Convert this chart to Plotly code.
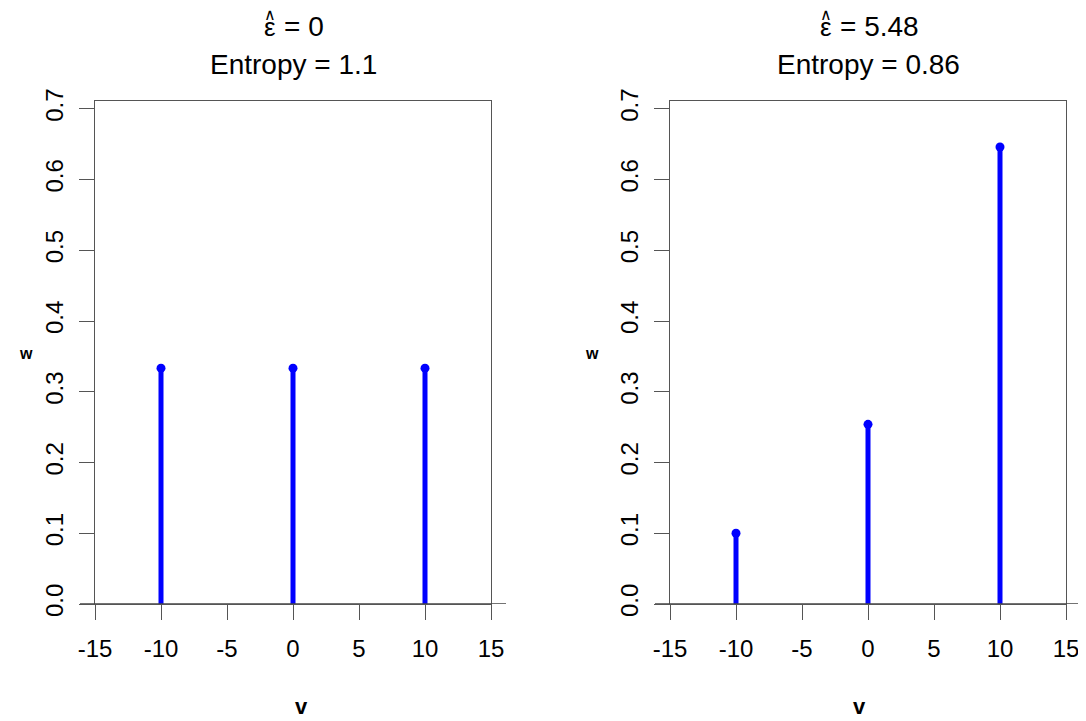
import plotly.graph_objects as go

v = [-10, 0, 10]
w_left = [1/3, 1/3, 1/3]
w_right = [0.100, 0.254, 0.646]
titles_eps = ["0", "5.48"]
titles_ent = ["1.1", "0.86"]
xticks = [-15, -10, -5, 0, 5, 10, 15]
yticks = [0.0, 0.1, 0.2, 0.3, 0.4, 0.5, 0.6, 0.7]

# page is 1086x721; the browser's default body margin offsets the figure by 8px
OFF = 8
W, H = 1086 - OFF, 721 - OFF
FONT = "Liberation Sans, Arial, sans-serif"
AX = "#555555"


def fx(px):
    return (px - OFF) / W


def fy(py):
    return 1 - (py - OFF) / H


fig = go.Figure()

panels = [(w_left, "x", "y", 95, 491, 270), (w_right, "x2", "y2", 670, 1066, 826)]
for i, (w, xa, ya, px0, px1, epsx) in enumerate(panels):
    sx, sy = [], []
    for vi, wi in zip(v, w):
        sx += [vi, vi, None]
        sy += [0, wi, None]
    fig.add_trace(go.Scatter(x=sx, y=sy, mode="lines", line=dict(color="#0000ff", width=5),
                             xaxis=xa, yaxis=ya, showlegend=False, hoverinfo="skip"))
    fig.add_trace(go.Scatter(x=v, y=w, mode="markers", marker=dict(color="#0000ff", size=9),
                             xaxis=xa, yaxis=ya, showlegend=False))
    fig.add_shape(type="line", xref="paper", yref=ya, x0=fx(px0 - 15), x1=fx(px1 + 15),
                  y0=0, y1=0, line=dict(color="#444444", width=1.3))
    cx = fx((px0 + px1) / 2)
    # epsilon with hat
    fig.add_annotation(text="ε", xref="paper", yref="paper", x=fx(epsx), y=fy(27),
                       showarrow=False, font=dict(family=FONT, size=26, color="black"),
                       xanchor="center", yanchor="middle")
    fig.add_annotation(text="∧", xref="paper", yref="paper", x=fx(epsx), y=fy(15),
                       showarrow=False, font=dict(family="DejaVu Sans", size=16, color="black"),
                       xanchor="center", yanchor="middle")
    fig.add_annotation(text="= " + titles_eps[i], xref="paper", yref="paper", x=fx(epsx + 12), y=fy(26),
                       showarrow=False, font=dict(family=FONT, size=28, color="black"),
                       xanchor="left", yanchor="middle")
    fig.add_annotation(text="Entropy = " + titles_ent[i], xref="paper", yref="paper", x=cx, y=fy(64),
                       showarrow=False, font=dict(family=FONT, size=28, color="black"),
                       xanchor="center", yanchor="middle")
    fig.add_annotation(text="<b>v</b>", xref="paper", yref="paper", x=cx, y=fy(706),
                       showarrow=False, font=dict(family=FONT, size=22, color="black"), yanchor="middle")
    fig.add_annotation(text="<b>w</b>", xref="paper", yref="paper", x=fx(px0 - 78), y=fy(353),
                       showarrow=False, font=dict(family=FONT, size=16, color="black"), yanchor="middle")

ydom = [fy(604), fy(101)]
common_x = dict(range=[-15, 15], tickvals=xticks, ticktext=[str(t) for t in xticks], ticks="outside",
                ticklen=15, tickcolor=AX, tickwidth=1.3, showline=True, linecolor=AX, linewidth=1.3,
                mirror=True, showgrid=False, zeroline=False, automargin=False, ticklabelstandoff=8,
                tickfont=dict(family=FONT, size=24, color="black"), fixedrange=True)
common_y = dict(range=[0, 0.711], tickvals=yticks, ticktext=["%.1f" % t for t in yticks], ticks="outside",
                ticklen=15, tickcolor=AX, tickwidth=1.3, showline=True, linecolor=AX, linewidth=1.3,
                mirror=True, showgrid=False, zeroline=False, tickangle=-90, automargin=False,
                ticklabelstandoff=6,
                tickfont=dict(family=FONT, size=24, color="black"), domain=ydom, fixedrange=True)

fig.update_layout(
    width=W, height=H, margin=dict(l=0, r=0, t=0, b=0, autoexpand=False),
    paper_bgcolor="white", plot_bgcolor="white",
    xaxis=dict(common_x, domain=[fx(95), fx(491)], anchor="y"),
    yaxis=dict(common_y, anchor="x"),
    xaxis2=dict(common_x, domain=[fx(670), fx(1066)], anchor="y2"),
    yaxis2=dict(common_y, anchor="x2"),
)

fig.write_html("out.html")
